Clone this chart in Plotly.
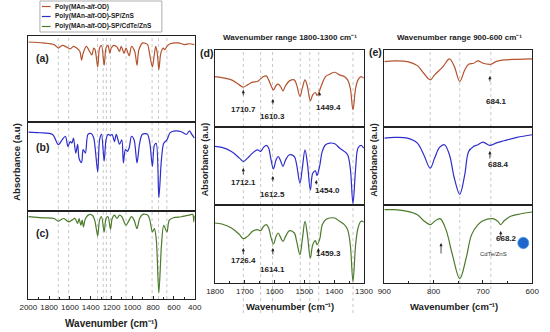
import plotly.graph_objects as go

W, H = 550, 332
FONT = "Liberation Sans, Arial, sans-serif"
RED = "#b4532f"
BLUE = "#2e2ecc"
GREEN = "#4c7a2c"
INK = "#222222"

# ---------------- data ----------------
# full range spectra 2000-400 cm-1
wn_a = [2000, 1860, 1752, 1712, 1675, 1628, 1597, 1566, 1535, 1504, 1488, 1473, 1442, 1411, 1389, 1371,
        1358, 1333, 1315, 1296, 1271, 1253, 1234, 1216, 1203, 1178, 1147, 1123, 1107, 1079, 1061, 1030,
        1008, 977, 955, 937, 900, 853, 838, 807, 791, 775, 760, 745, 726, 704, 689, 667, 636, 559, 496, 450, 403]
ab_a = [93, 92, 90, 86, 89, 87, 85, 88, 86, 82, 72, 80, 88, 82, 78, 86,
        84, 64, 86, 89, 66, 86, 89, 80, 86, 89, 87, 82, 88, 80, 86, 77,
        88, 82, 66, 84, 92, 90, 82, 64, 76, 88, 80, 61, 80, 86, 84, 88, 91, 92, 90, 91, 90]

wn_b = [2000, 1891, 1767, 1712, 1675, 1644, 1619, 1597, 1581, 1566, 1544, 1526, 1512, 1488, 1473, 1451,
        1427, 1395, 1371, 1333, 1315, 1296, 1271, 1253, 1234, 1210, 1194, 1172, 1154, 1123, 1101, 1086,
        1067, 1048, 1030, 1008, 983, 955, 930, 906, 875, 853, 831, 807, 788, 770, 745, 720, 698, 667,
        636, 589, 528, 481, 450, 428, 403]
ab_b = [88.6, 87.9, 86, 74.6, 80, 84, 72.7, 78, 76.5, 82, 65, 75, 59, 54.5, 69, 65,
        86, 87, 82, 44, 80, 86, 56, 80, 86, 85, 86, 78, 86, 75, 80, 54,
        69, 67, 71, 84, 80, 54, 76, 86, 87, 86, 76, 50, 74, 76, 15, 58, 76, 80,
        88, 90, 89, 86, 90, 86, 82]

wn_c = [2000, 1860, 1752, 1712, 1659, 1612, 1581, 1551, 1526, 1512, 1495, 1482, 1470, 1451, 1411, 1380,
        1358, 1333, 1315, 1296, 1271, 1253, 1234, 1210, 1194, 1172, 1147, 1123, 1101, 1061, 1039, 1008,
        983, 955, 930, 900, 853, 831, 807, 788, 770, 745, 720, 698, 667, 645, 605, 528, 450, 419, 409, 403]
ab_c = [93.5, 92.3, 91.5, 88.5, 91.5, 87.7, 89.6, 91.5, 85.8, 91.5, 83.8, 89.6, 81.9, 91.5, 96.2, 94.6,
        87.7, 71.5, 89.6, 93.5, 76.2, 91.5, 93.5, 79.2, 91.5, 95.4, 91.5, 95.4, 93.5, 83.8, 87.7, 93.5,
        89.6, 80, 91.5, 96.2, 95.4, 89.6, 76.2, 80, 68.5, 6.9, 60.8, 83.8, 76.2, 89.6, 92.3, 93.5, 95.4, 96.2, 87.7, 94.6]

# 1800-1300 cm-1 zoom
wn_mid = [1800, 1777, 1745, 1718, 1705, 1691, 1674, 1658, 1647, 1637, 1628, 1620, 1613, 1604, 1595, 1588,
          1580, 1572, 1563, 1550, 1534, 1526, 1515, 1507, 1498, 1490, 1480, 1472, 1463, 1458, 1449, 1440,
          1429, 1415, 1398, 1382, 1366, 1355, 1346, 1337, 1328, 1320, 1310, 1301]
ab_da = [65.5, 64.2, 61.2, 54.7, 51.7, 54.7, 58.2, 59.1, 62.5, 65.5, 66.4, 61.2, 54.7, 48.3, 53.9, 55.6,
         52.6, 47, 53.9, 59.9, 61.2, 54.7, 39.7, 50.4, 61.2, 52.6, 34.1, 41.8, 44.8, 40.9, 47.4, 56.9,
         65.5, 68.5, 71.1, 67.7, 65.5, 61.2, 50.4, 22.4, 50.4, 61.2, 65.5, 63.4]
ab_db = [75.1, 73.8, 68.7, 60.1, 55.8, 60.1, 66.5, 70.8, 68.7, 73.8, 76.4, 73, 60.1, 46.4, 57.9, 62.2,
         56.7, 49.4, 57.9, 64.4, 62.2, 51.5, 27.9, 47.2, 70.8, 53.6, 19.3, 40.8, 43.8, 37.8, 49.4, 68.7,
         77.3, 79.4, 78.5, 73, 68.7, 64.4, 47.2, 2.1, 47.2, 73, 76.4, 73]
ab_dc = [76.9, 75.6, 70.5, 62, 56.8, 59.8, 66.2, 68.4, 67.1, 72.6, 74.8, 70.5, 59.8, 50, 59.8, 64.1,
         58.5, 53.4, 59.8, 67.1, 64.1, 53.4, 36.3, 55.6, 79.1, 62, 32.1, 49.1, 54.3, 49.1, 55.6, 74.8,
         81.2, 83.3, 83.3, 79.1, 74.8, 68.4, 49.1, 2.1, 49.1, 70.5, 79.1, 78.2]

# 900-600 cm-1 zoom
wn_ea = [900, 879, 853, 833, 820, 807, 798, 781, 768, 758, 747, 737, 729, 719, 710, 700, 684, 674, 657, 631, 600]
ab_ea = [84.9, 85.8, 84.9, 79.7, 69.8, 61.2, 67.7, 78.4, 88.4, 78.4, 59.1, 74.1, 81.5, 82.8, 85.8, 82.8,
         81.5, 84.9, 87.1, 87.9, 88.4]
wn_eb = [900, 879, 853, 833, 820, 807, 798, 788, 778, 768, 758, 747, 737, 729, 719, 710, 700, 686, 674, 657, 631, 600]
ab_eb = [85.8, 86.7, 85.8, 79.4, 64.4, 47.2, 60.1, 73.8, 77.3, 64.4, 34.3, 13.7, 38.6, 68.7, 75.1, 77.3,
         80.7, 76.4, 79.4, 82.4, 86.7, 90.1]
wn_ec = [900, 879, 853, 833, 820, 807, 798, 787, 775, 762, 747, 734, 723, 710, 700, 680, 670, 664, 657, 644, 625, 600]
ab_ec = [94, 94, 91.9, 87.6, 79.9, 74.8, 79.1, 82.5, 68.4, 36.3, 5.6, 32.1, 62, 74.8, 79.9, 82.5,
         79.1, 74.8, 79.9, 85.5, 88.5, 91]

# dotted reference lines (cm-1)
lines_full = [1712, 1612, 1335, 1280, 1250, 1210, 1060, 810, 748, 668]
lines_mid = [1705, 1647, 1607, 1514, 1482, 1452, 1337]
lines_low = [807, 747, 684]

# peak labels: (text, wavenumber of arrow, panel row)
peaks_mid = [("1710.7", 1705, 0), ("1610.3", 1606, 0), ("1449.4", 1449, 0),
             ("1712.1", 1705, 1), ("1612.5", 1606, 1), ("1454.0", 1460, 1),
             ("1726.4", 1705, 2), ("1614.1", 1606, 2), ("1459.3", 1453, 2)]
peaks_low = [("684.1", 686, 0), ("688.4", 686, 1), ("", 785, 2), ("668.2", 664, 2)]

legend_names = ["Poly(MAn-<i>alt</i>-OD)", "Poly(MAn-<i>alt</i>-OD)-SP/ZnS", "Poly(MAn-<i>alt</i>-OD)-SP/CdTe/ZnS"]
colors = [RED, BLUE, GREEN]


# ---------------- layout geometry (pixels) ----------------
def px(x):
    return x / W


def py(y):
    return 1 - y / H


columns = [
    dict(x=(20, 192), rows=[(36, 122), (122, 211), (211, 299)], rng=[2000, 400], dtick=200, minor=100,
         vlines=lines_full, vext=299,
         series=[(wn_a, ab_a), (wn_b, ab_b), (wn_c, ab_c)]),
    dict(x=(213, 367), rows=[(50, 127), (127, 205), (205, 283)], rng=[1800, 1300], dtick=100, minor=50,
         vlines=lines_mid, vext=313,
         series=[(wn_mid, ab_da), (wn_mid, ab_db), (wn_mid, ab_dc)]),
    dict(x=(388, 541), rows=[(50, 127), (127, 205), (205, 283)], rng=[900, 600], dtick=100, minor=50,
         vlines=lines_low, vext=289,
         series=[(wn_ea, ab_ea), (wn_eb, ab_eb), (wn_ec, ab_ec)]),
]

fig = go.Figure()
layout = {}
shapes = []
annotations = []

idx = 0
for ci, col in enumerate(columns):
    for ri, (top, bot) in enumerate(col["rows"]):
        idx += 1
        xa = "x" if idx == 1 else f"x{idx}"
        ya = "y" if idx == 1 else f"y{idx}"
        xk = "xaxis" if idx == 1 else f"xaxis{idx}"
        yk = "yaxis" if idx == 1 else f"yaxis{idx}"
        bottom = ri == 2
        wn, ab = col["series"][ri]
        fig.add_trace(go.Scatter(x=wn, y=ab, mode="lines", xaxis=xa, yaxis=ya,
                                 line=dict(color=colors[ri], width=1.2, shape="spline",
                                           smoothing=0.8 if ci == 0 else 1.0),
                                 hoverinfo="skip", showlegend=False))
        layout[xk] = dict(domain=[px(col["x"][0]), px(col["x"][1])], range=col["rng"], anchor=ya,
                          showline=True, mirror=True, linecolor=INK, linewidth=1,
                          showgrid=False, zeroline=False,
                          ticks="inside" if bottom else "", ticklen=3, tickwidth=0.8, tickcolor=INK,
                          dtick=col["dtick"], tick0=0, showticklabels=bottom,
                          tickfont=dict(family=FONT, size=8, color=INK),
                          minor=dict(dtick=col["minor"], ticks="inside" if bottom else "", ticklen=2,
                                     tickcolor=INK, tickwidth=0.8))
        layout[yk] = dict(domain=[py(bot), py(top)], range=[0, 100], anchor=xa,
                          showline=True, mirror=True, linecolor=INK, linewidth=1,
                          showgrid=False, zeroline=False, showticklabels=False, ticks="")
    xref_col = f"x{idx}"
    # dotted vertical lines
    for v in col["vlines"]:
        shapes.append(dict(type="line", xref=xref_col, yref="paper", x0=v, x1=v,
                           y0=py(col["vext"]), y1=py(col["rows"][0][0]),
                           line=dict(color="#b0b0b0", width=0.7, dash="dot"), layer="below"))

# peak arrows and labels, middle column
arrow_geo_mid = {  # per item: (tip y, tail y, label y, label x shift)
    0: (90, 97, 102.5, 0), 1: (99, 106, 116, 0), 2: (92, 97, 101, 9),
    3: (168, 176, 182, 0), 4: (176, 183, 194, 0), 5: (180, 186, 190.7, 11),
    6: (248, 256, 267, 0), 7: (248, 256, 276, 0), 8: (248, 255, 260, 10),
}
for k, (txt_, w, r) in enumerate(peaks_mid):
    tip, tail, ly, dx = arrow_geo_mid[k]
    annotations.append(dict(x=w, y=py(tip), xref="x6", yref="paper", ax=0, ay=tail - tip,
                            showarrow=True, arrowhead=2, arrowsize=0.8, arrowwidth=0.8,
                            arrowcolor=INK, text=""))
    annotations.append(dict(x=w, y=py(ly), xref="x6", yref="paper", xshift=dx, showarrow=False,
                            text=f"<b>{txt_}</b>", font=dict(family=FONT, size=8, color=INK)))

arrow_geo_low = {0: (76, 83, 94.7, 7), 1: (151, 160, 164.7, 9), 2: (243, 255, 0, 0), 3: (231, 240, 245.3, 6)}
for k, (txt_, w, r) in enumerate(peaks_low):
    tip, tail, ly, dx = arrow_geo_low[k]
    annotations.append(dict(x=w, y=py(tip), xref="x9", yref="paper", ax=0, ay=tail - tip,
                            showarrow=True, arrowhead=2, arrowsize=0.8, arrowwidth=0.8,
                            arrowcolor=INK, text=""))
    if txt_:
        annotations.append(dict(x=w, y=py(ly), xref="x9", yref="paper", xshift=dx, showarrow=False,
                                text=f"<b>{txt_}</b>", font=dict(family=FONT, size=8, color=INK)))

# blue dot + CdTe/ZnS
shapes.append(dict(type="circle", xref="paper", yref="paper", x0=px(526), x1=px(537.4),
                   y0=py(248.7), y1=py(237.3), fillcolor="#1f66cc", line=dict(color="#4f9ae8", width=0.8)))
annotations.append(dict(x=px(517), y=py(259), xref="paper", yref="paper", showarrow=False,
                        text="CdTe/ZnS", font=dict(family=FONT, size=6, color="#333")))


def txt(x, y, s, size, angle=0, anchor="center"):
    annotations.append(dict(x=px(x), y=py(y), xref="paper", yref="paper", showarrow=False,
                            text=s, textangle=angle, xanchor=anchor, yanchor="middle",
                            font=dict(family=FONT, size=size, color=INK)))


# panel letters
txt(35, 58, "<b>(a)</b>", 10.5)
txt(35, 147, "<b>(b)</b>", 10.5)
txt(35, 233, "<b>(c)</b>", 10.5)
txt(204, 53, "<b>(d)</b>", 10.5)
txt(379, 52, "<b>(e)</b>", 10.5)

# axis titles
txt(7, 162, "<b>Absorbance (a.u)</b>", 9.5, angle=-90)
txt(203, 159, "<b>Absorbance (a.u)</b>", 9, angle=-90)
txt(377, 160, "<b>Absorbance (a.u)</b>", 9, angle=-90)
txt(106, 323, "<b>Wavenumber (cm\u207b\u00b9)</b>", 10)
txt(290, 306, "<b>Wavenumber (cm\u207b\u00b9)</b>", 9.5)
txt(460, 306, "<b>Wavenumber (cm\u207b\u00b9)</b>", 9.5)
txt(291, 38, "<b>Wavenumber range 1800-1300 cm\u207b\u00b9</b>", 8)
txt(466, 38, "<b>Wavenumber range 900-600 cm\u207b\u00b9</b>", 8)

# legend (drawn by hand to match compact spacing)
shapes.append(dict(type="rect", xref="paper", yref="paper", x0=px(32), x1=px(158), y0=py(32), y1=py(1),
                   line=dict(color="#9a9a9a", width=0.8), fillcolor="white"))
for k, (name, c) in enumerate(zip(legend_names, colors)):
    yy = 6.5 + 10 * k
    shapes.append(dict(type="line", xref="paper", yref="paper", x0=px(34), x1=px(43), y0=py(yy), y1=py(yy),
                       line=dict(color=c, width=1.2)))
    txt(45, yy, f"<b>{name}</b>", 6.5, anchor="left")

fig.update_layout(width=W, height=H, margin=dict(l=0, r=0, t=0, b=0),
                  paper_bgcolor="white", plot_bgcolor="white", showlegend=False,
                  shapes=shapes, annotations=annotations, **layout)

fig.write_html("out.html", config={"displayModeBar": False},
               post_script="document.body.style.margin='0';document.body.style.padding='0';"
                           "document.documentElement.style.overflow='hidden';")
